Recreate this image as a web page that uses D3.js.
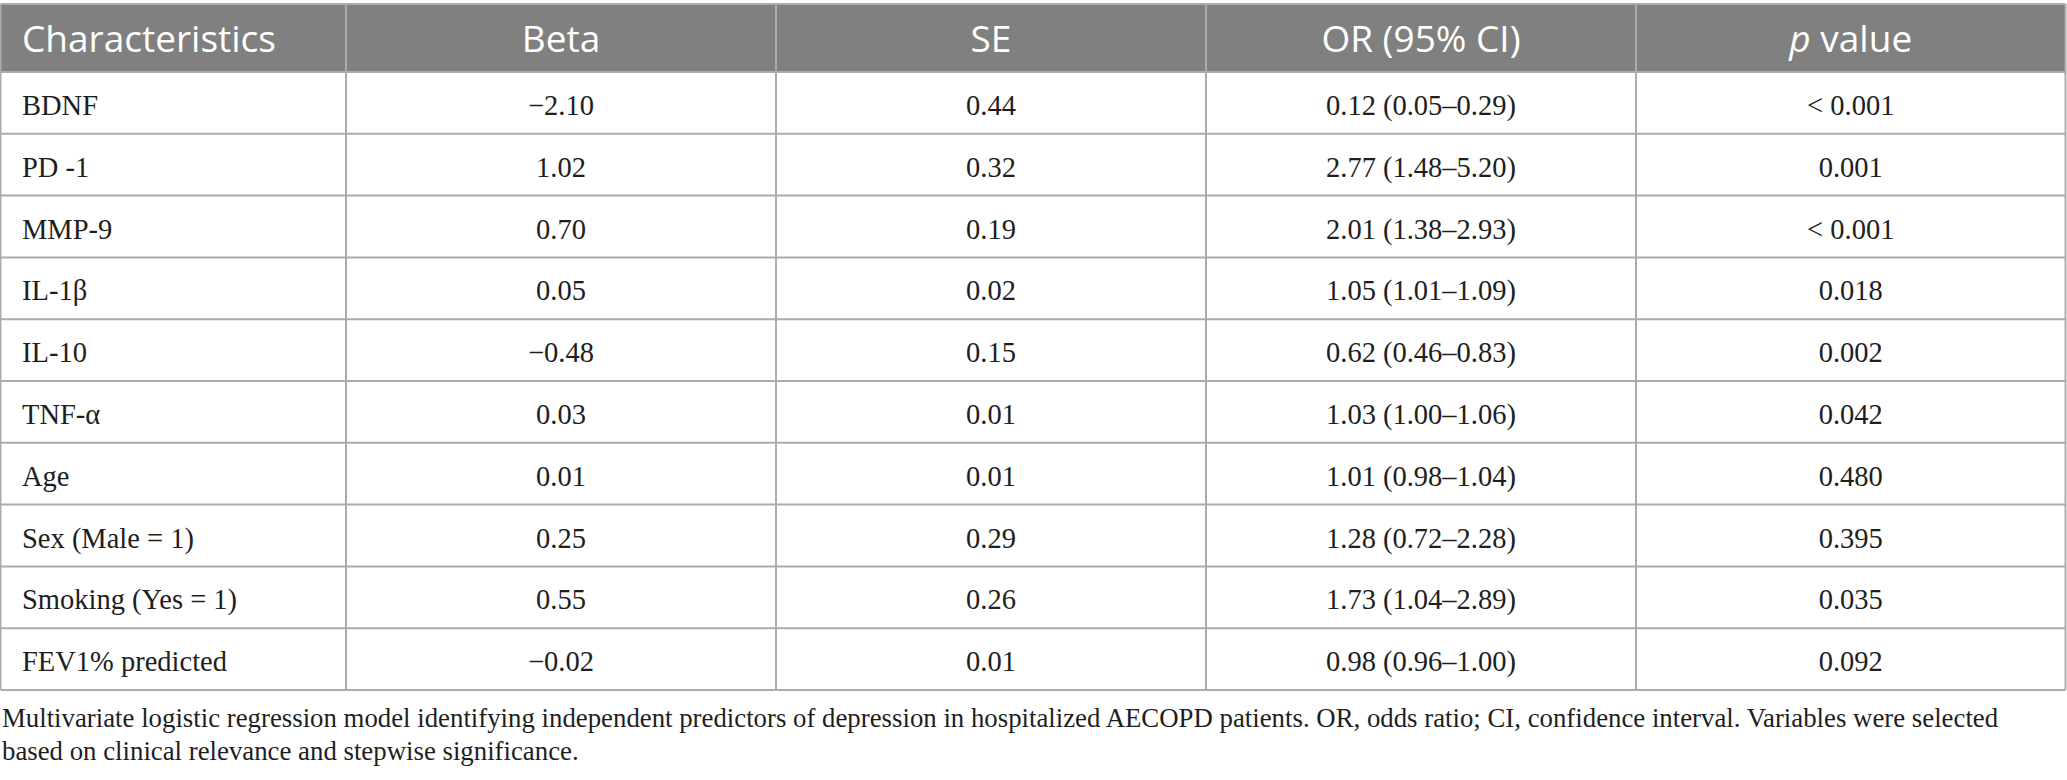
<!DOCTYPE html>
<html>
<head>
<meta charset="utf-8">
<script src="https://cdn.jsdelivr.net/npm/d3@7"></script>
<style>
html,body{margin:0;padding:0;background:#fff;}
svg{display:block;}
</style>
</head>
<body>
<svg id="chart" width="2067" height="780"></svg>
<script>
const headers = ["Characteristics", "Beta", "SE", "OR (95% CI)", "p value"];
const characteristics = ["BDNF", "PD -1", "MMP-9", "IL-1β", "IL-10", "TNF-α", "Age", "Sex (Male = 1)", "Smoking (Yes = 1)", "FEV1% predicted"];
const beta = ["−2.10", "1.02", "0.70", "0.05", "−0.48", "0.03", "0.01", "0.25", "0.55", "−0.02"];
const se = ["0.44", "0.32", "0.19", "0.02", "0.15", "0.01", "0.01", "0.29", "0.26", "0.01"];
const orCI = ["0.12 (0.05–0.29)", "2.77 (1.48–5.20)", "2.01 (1.38–2.93)", "1.05 (1.01–1.09)", "0.62 (0.46–0.83)", "1.03 (1.00–1.06)", "1.01 (0.98–1.04)", "1.28 (0.72–2.28)", "1.73 (1.04–2.89)", "0.98 (0.96–1.00)"];
const pValues = ["< 0.001", "0.001", "< 0.001", "0.018", "0.002", "0.042", "0.480", "0.395", "0.035", "0.092"];
const captionLines = [
  "Multivariate logistic regression model identifying independent predictors of depression in hospitalized AECOPD patients. OR, odds ratio; CI, confidence interval. Variables were selected",
  "based on clinical relevance and stepwise significance."
];

const columns = [characteristics, beta, se, orCI, pValues];
const svg = d3.select("#chart");

const tableLeft = 0.5, tableRight = 2065.5;
const headerTop = 4, headerBottom = 72, tableBottom = 690;
const colEdges = [tableLeft, 346, 776, 1206, 1636, tableRight];
const lineColor = "#ababab";

const y = d3.scaleBand().domain(d3.range(characteristics.length)).range([headerBottom, tableBottom]).padding(0);

// header background
svg.append("rect").attr("x", tableLeft).attr("y", headerTop)
  .attr("width", tableRight - tableLeft).attr("height", headerBottom - headerTop)
  .attr("fill", "#808080");

// horizontal lines
const hLines = [headerTop].concat(d3.range(characteristics.length).map(i => y(i)), [tableBottom]);
svg.selectAll("line.h").data(hLines).join("line").attr("class", "h")
  .attr("x1", tableLeft).attr("x2", tableRight)
  .attr("y1", d => d).attr("y2", d => d)
  .attr("stroke", lineColor).attr("stroke-width", 2);

// vertical lines
svg.selectAll("line.v").data(colEdges).join("line").attr("class", "v")
  .attr("x1", d => d).attr("x2", d => d)
  .attr("y1", headerTop).attr("y2", tableBottom)
  .attr("stroke", lineColor).attr("stroke-width", 2);

// header texts
const headG = svg.append("g");
headers.forEach((h, i) => {
  const t = headG.append("text")
    .attr("x", i === 0 ? 22 : (colEdges[i] + colEdges[i + 1]) / 2)
    .attr("y", 52)
    .attr("text-anchor", i === 0 ? "start" : "middle")
    .attr("fill", "#ffffff")
    .style("font-family", "'Open Sans', 'Noto Sans', sans-serif")
    .style("font-size", "37px");
  if (h === "p value") {
    t.append("tspan").style("font-style", "italic").text("p");
    t.append("tspan").text(" value");
  } else {
    t.text(h);
  }
});

// body cells
const bodyG = svg.append("g");
columns.forEach((col, ci) => {
  bodyG.selectAll(null).data(col).join("text")
    .attr("x", ci === 0 ? 22 : (colEdges[ci] + colEdges[ci + 1]) / 2)
    .attr("y", (d, i) => y(i) + y.bandwidth() / 2 + 12)
    .attr("text-anchor", ci === 0 ? "start" : "middle")
    .attr("fill", "#1e1e1e")
    .style("font-family", "'Liberation Serif', 'Times New Roman', serif")
    .style("font-size", "28.5px")
    .text(d => d);
});

// caption
svg.append("g").selectAll("text").data(captionLines).join("text")
  .attr("x", 2)
  .attr("y", (d, i) => 727 + i * 33)
  .attr("fill", "#1e1e1e")
  .style("font-family", "'Liberation Serif', 'Times New Roman', serif")
  .style("font-size", "26.8px")
  .text(d => d);
</script>
</body>
</html>
